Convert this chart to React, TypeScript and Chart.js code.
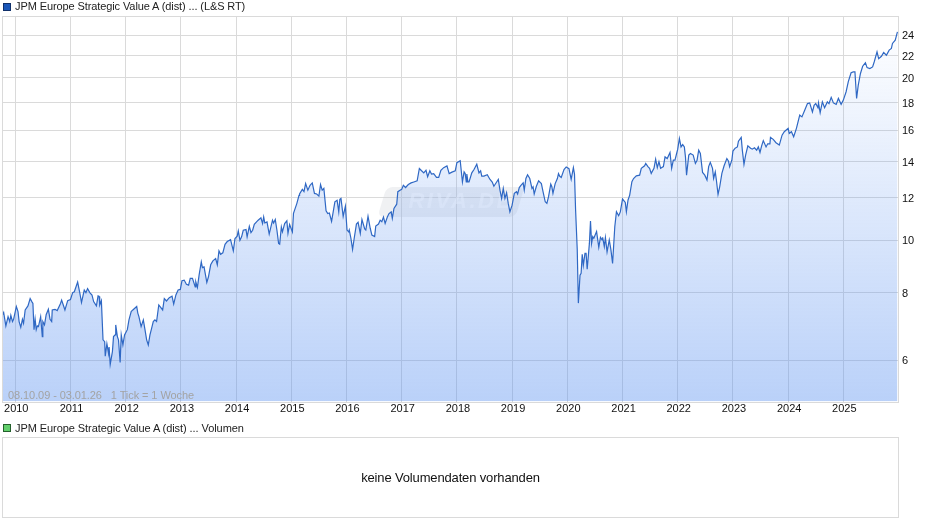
import React, { useEffect, useRef } from "react";
import { Chart, registerables } from "chart.js";

Chart.register(...registerables);

const seriesLabel = "JPM Europe Strategic Value A (dist) ... (L&S RT)";
const volumeLabel = "JPM Europe Strategic Value A (dist) ... Volumen";
const noVolumeText = "keine Volumendaten vorhanden";
const rangeText = "08.10.09 - 03.01.26";
const tickText = "1 Tick = 1 Woche";
const watermarkText = "RIVA.DE";

const yearTicks = [2010, 2011, 2012, 2013, 2014, 2015, 2016, 2017, 2018, 2019, 2020, 2021, 2022, 2023, 2024, 2025];
const priceTicks = [6, 8, 10, 12, 14, 16, 18, 20, 22, 24];

const dates2009to2012 = [2009.77,2009.79,2009.83,2009.87,2009.90,2009.92,2009.95,2009.97,2010.02,2010.05,2010.07,2010.10,2010.13,2010.15,2010.18,2010.23,2010.27,2010.30,2010.32,2010.34,2010.36,2010.38,2010.40,2010.42,2010.46,2010.49,2010.50,2010.53,2010.56,2010.60,2010.63,2010.66,2010.67,2010.72,2010.76,2010.82,2010.84,2010.87,2010.90,2010.95,2011.00,2011.04,2011.07,2011.13,2011.17,2011.20,2011.25,2011.28,2011.31,2011.35,2011.39,2011.42,2011.47,2011.50,2011.52,2011.53,2011.56,2011.59,2011.62,2011.63,2011.66,2011.69,2011.70,2011.72,2011.76,2011.78,2011.81,2011.82,2011.85,2011.87,2011.90,2011.92,2011.95,2011.98,2012.03,2012.06,2012.10,2012.13,2012.20,2012.22,2012.24,2012.28,2012.32,2012.35,2012.38,2012.41,2012.44,2012.47,2012.50,2012.53,2012.56,2012.60];
const prices2009to2012 = [7.28,7.35,6.94,7.22,7.07,7.26,7.07,7.14,7.54,7.38,7.07,6.90,7.14,7.02,7.43,7.56,7.80,7.70,7.64,6.83,7.14,6.83,6.94,6.92,7.22,6.63,7.07,6.97,7.28,7.45,7.14,7.07,7.43,7.45,7.41,7.64,7.75,7.59,7.43,7.73,7.77,8.00,8.03,8.37,7.98,7.67,8.09,8.00,8.14,8.00,7.92,7.70,7.56,7.89,7.87,7.59,7.73,6.54,6.49,6.10,6.43,6.17,6.34,5.89,6.22,6.63,6.68,6.97,6.63,6.54,5.94,6.68,6.40,6.68,6.83,7.12,7.38,7.43,7.54,7.33,7.22,6.92,7.12,6.83,6.54,6.40,6.68,6.87,7.07,7.12,7.07,7.59];

const dates2012to2015 = [2012.67,2012.70,2012.74,2012.79,2012.84,2012.87,2012.91,2012.95,2012.99,2013.02,2013.06,2013.10,2013.14,2013.17,2013.21,2013.26,2013.27,2013.30,2013.33,2013.37,2013.39,2013.42,2013.47,2013.50,2013.54,2013.58,2013.63,2013.66,2013.69,2013.72,2013.76,2013.80,2013.84,2013.90,2013.95,2013.98,2014.02,2014.04,2014.07,2014.10,2014.13,2014.18,2014.20,2014.24,2014.27,2014.30,2014.33,2014.40,2014.45,2014.48,2014.50,2014.52,2014.56,2014.60,2014.66,2014.68,2014.71,2014.74,2014.77,2014.79,2014.82,2014.84,2014.88,2014.92,2014.94,2014.97,2015.02,2015.04,2015.10,2015.14];
const prices2012to2015 = [7.43,7.80,7.72,7.83,7.88,7.62,7.92,8.09,8.11,8.42,8.44,8.29,8.26,8.50,8.50,8.20,8.38,8.18,8.62,9.12,8.90,8.93,8.36,8.56,9.01,9.16,9.25,9.01,9.56,9.42,9.48,9.83,9.95,10.03,9.56,10.08,10.18,10.41,10.00,10.15,10.44,10.47,10.15,10.62,10.34,10.44,10.71,10.90,11.01,10.74,11.05,10.77,10.82,10.27,10.90,10.77,10.93,10.44,9.87,9.84,10.59,10.37,10.74,10.87,10.30,10.70,10.37,11.22,11.70,12.12];

const dates2015to2017 = [2015.15,2015.20,2015.23,2015.26,2015.30,2015.34,2015.38,2015.42,2015.46,2015.50,2015.53,2015.56,2015.59,2015.63,2015.66,2015.69,2015.73,2015.77,2015.79,2015.83,2015.86,2015.88,2015.90,2015.94,2015.98,2016.01,2016.04,2016.05,2016.08,2016.11,2016.14,2016.18,2016.21,2016.25,2016.28,2016.33,2016.35,2016.39,2016.43,2016.46,2016.51,2016.53,2016.58,2016.61,2016.64,2016.67,2016.70,2016.74,2016.77,2016.81,2016.83,2016.86,2016.91,2016.93,2016.97,2017.00,2017.03,2017.07,2017.12,2017.17,2017.22,2017.28,2017.32,2017.36,2017.40,2017.44,2017.47,2017.51,2017.54,2017.58,2017.63,2017.67,2017.71,2017.76,2017.82,2017.86,2017.91];
const prices2015to2017 = [12.19,12.43,12.31,12.74,12.39,12.65,12.78,12.22,12.19,12.08,12.69,12.39,12.48,11.34,11.21,11.24,10.84,11.46,11.79,11.87,11.29,11.92,11.96,11.08,11.57,10.45,10.37,10.45,10.09,9.62,10.09,10.72,10.80,10.30,10.93,10.50,10.45,11.08,10.53,10.23,10.16,10.63,10.72,10.90,10.83,11.05,10.75,11.05,11.21,11.29,10.98,11.46,11.67,12.31,12.39,12.43,12.65,12.53,12.69,12.78,12.83,12.89,13.59,13.46,13.34,13.49,13.12,13.46,13.27,13.30,13.08,13.08,13.49,13.64,13.74,13.30,13.38];

const dates2018to2020 = [2017.97,2018.00,2018.06,2018.10,2018.13,2018.15,2018.17,2018.18,2018.20,2018.22,2018.27,2018.31,2018.36,2018.40,2018.43,2018.45,2018.49,2018.55,2018.60,2018.64,2018.67,2018.72,2018.75,2018.78,2018.81,2018.84,2018.87,2018.90,2018.93,2018.96,2019.00,2019.04,2019.08,2019.10,2019.13,2019.16,2019.20,2019.22,2019.25,2019.28,2019.32,2019.36,2019.38,2019.40,2019.44,2019.48,2019.53,2019.56,2019.60,2019.63,2019.66,2019.70,2019.72,2019.74,2019.78,2019.82,2019.84,2019.86,2019.89,2019.94,2019.98,2020.03,2020.07,2020.11,2020.13,2020.15];
const prices2018to2020 = [13.46,13.93,14.05,12.83,13.40,13.30,12.83,13.27,12.83,12.83,13.34,13.53,13.84,13.34,13.46,13.16,13.16,13.23,12.97,12.83,12.60,12.83,12.97,12.39,11.96,12.48,11.96,12.25,11.71,11.29,11.62,12.22,12.31,12.19,12.53,12.65,12.78,12.39,13.02,13.23,13.02,12.48,12.57,12.19,12.60,12.89,12.74,12.31,11.79,11.71,12.05,12.71,12.57,12.22,12.74,13.02,13.30,13.16,13.08,13.53,13.68,13.58,12.97,13.64,13.27,11.38];

const dates2020to2023 = [2020.18,2020.20,2020.23,2020.25,2020.27,2020.29,2020.32,2020.34,2020.36,2020.40,2020.42,2020.44,2020.46,2020.48,2020.53,2020.57,2020.60,2020.63,2020.64,2020.67,2020.69,2020.72,2020.76,2020.79,2020.82,2020.86,2020.89,2020.93,2020.96,2021.00,2021.05,2021.07,2021.10,2021.13,2021.17,2021.20,2021.25,2021.31,2021.34,2021.40,2021.42,2021.46,2021.49,2021.52,2021.57,2021.60,2021.63,2021.66,2021.69,2021.74,2021.77,2021.81,2021.86,2021.89,2021.92,2021.95,2021.98,2022.00,2022.03,2022.06,2022.09,2022.12,2022.14,2022.16,2022.20,2022.23,2022.28,2022.32,2022.35,2022.38,2022.41,2022.45,2022.49,2022.53,2022.56,2022.59,2022.63,2022.65,2022.68,2022.70,2022.73,2022.76,2022.80,2022.84,2022.89,2022.92,2022.94,2022.98,2023.00,2023.04,2023.08,2023.10,2023.15,2023.17,2023.20,2023.23,2023.27,2023.32,2023.35,2023.39,2023.43,2023.46,2023.49,2023.52,2023.55,2023.60,2023.63,2023.67];
const prices2020to2023 = [9.60,7.65,8.62,8.69,9.42,8.99,9.46,9.46,8.84,9.87,10.86,9.87,10.16,10.09,10.38,9.71,10.13,10.02,10.13,9.74,10.12,9.52,10.02,9.60,9.06,10.60,11.30,11.11,11.29,11.93,11.76,11.30,11.88,12.13,12.85,13.02,13.17,13.21,13.60,13.75,13.89,13.70,13.60,13.31,13.60,14.14,13.64,13.99,13.60,13.70,14.28,14.18,14.55,13.60,14.08,14.08,14.49,14.76,15.45,14.90,15.05,14.90,14.28,13.21,14.39,14.49,14.39,13.89,14.08,14.70,14.49,13.36,13.21,12.94,13.70,13.95,13.60,13.03,13.40,12.94,12.17,12.57,13.31,13.75,14.18,14.02,13.70,14.08,14.64,14.82,14.90,15.27,15.52,14.70,13.83,14.39,14.97,14.82,14.76,14.85,14.70,14.90,14.55,14.97,15.31,14.90,15.10,15.10];

const dates2023to2026 = [2023.68,2023.73,2023.78,2023.84,2023.89,2023.93,2024.00,2024.02,2024.06,2024.10,2024.15,2024.21,2024.25,2024.30,2024.35,2024.39,2024.44,2024.47,2024.50,2024.54,2024.55,2024.58,2024.62,2024.66,2024.71,2024.74,2024.78,2024.82,2024.87,2024.91,2024.96,2025.00,2025.05,2025.09,2025.14,2025.18,2025.21,2025.24,2025.27,2025.31,2025.35,2025.40,2025.43,2025.48,2025.53,2025.56,2025.61,2025.64,2025.69,2025.73,2025.78,2025.83,2025.87,2025.89,2025.94,2025.98];
const prices2023to2026 = [15.52,15.39,15.17,15.02,15.67,15.90,16.13,15.79,15.90,15.56,16.13,17.07,16.94,17.43,17.93,17.98,17.30,17.80,17.93,17.62,17.98,17.25,18.06,17.62,18.06,17.93,18.41,17.98,17.87,18.33,17.87,18.20,18.86,19.69,20.45,20.53,20.53,18.33,19.40,20.39,21.03,21.34,20.91,20.82,20.97,21.44,22.36,21.72,21.94,22.30,22.04,22.53,22.69,23.18,23.50,24.36];

const dates = [...dates2009to2012, ...dates2012to2015, ...dates2015to2017, ...dates2018to2020, ...dates2020to2023, ...dates2023to2026];
const prices = [...prices2009to2012, ...prices2012to2015, ...prices2015to2017, ...prices2018to2020, ...prices2020to2023, ...prices2023to2026];

const FONT = '"Liberation Sans", Arial, sans-serif';
const GRID = "#dadada";

const framePlugin = {
  id: "frame",
  beforeDatasetsDraw(chart: any) {
    const { ctx } = chart;
    // faint watermark, behind the fill
    ctx.save();
    ctx.translate(450, 202);
    ctx.transform(1, 0, -0.3, 1, 0, 0);
    ctx.fillStyle = "rgba(205,208,214,0.30)";
    ctx.beginPath();
    ctx.roundRect(-68, -15, 138, 30, 6);
    ctx.fill();
    ctx.restore();
    ctx.save();
    ctx.fillStyle = "rgba(255,255,255,0.5)";
    ctx.font = `italic bold 22px ${FONT}`;
    ctx.letterSpacing = "2.5px";
    ctx.textAlign = "center";
    ctx.textBaseline = "middle";
    ctx.fillText(watermarkText, 461, 202);
    ctx.restore();
  },
  afterDatasetsDraw(chart: any) {
    const { ctx, chartArea: a } = chart;
    ctx.save();
    ctx.strokeStyle = GRID;
    ctx.lineWidth = 1;
    ctx.strokeRect(Math.round(a.left) + 0.5, Math.round(a.top) + 0.5, Math.round(a.right - a.left), Math.round(a.bottom - a.top));
    ctx.restore();
  },
};

function Swatch({ top, color, border }: { top: number; color: string; border: string }) {
  return (
    <div style={{ position: "absolute", left: 3, top, width: 6, height: 6, background: color, border: `1px solid ${border}` }} />
  );
}

function Label({ top, text, spacing }: { top: number; text: string; spacing: string }) {
  return (
    <div style={{ position: "absolute", left: 15, top, font: `11px ${FONT}`, lineHeight: "13px", letterSpacing: spacing, color: "#222", whiteSpace: "nowrap" }}>{text}</div>
  );
}

export default function App() {
  const ref = useRef<HTMLCanvasElement>(null);
  useEffect(() => {
    const canvas = ref.current!;
    const chart = new Chart(canvas, {
      type: "line",
      data: {
        datasets: [
          {
            label: seriesLabel,
            data: dates.map((d, i) => ({ x: d, y: prices[i] })),
            borderColor: "#2f68c4",
            borderWidth: 1.2,
            pointRadius: 0,
            tension: 0,
            fill: "start",
            backgroundColor: (c: any) => {
              const a = c.chart.chartArea;
              if (!a) return "rgba(90,145,240,0.2)";
              const g = c.chart.ctx.createLinearGradient(0, a.top + 18, 0, a.bottom);
              g.addColorStop(0, "rgba(90,145,240,0.01)");
              g.addColorStop(1, "rgba(90,145,240,0.42)");
              return g;
            },
          },
        ],
      },
      options: {
        responsive: false,
        animation: false,
        layout: { padding: { left: 2, top: 16, right: 0, bottom: 0 } },
        plugins: { legend: { display: false }, tooltip: { enabled: false } },
        scales: {
          x: {
            type: "linear",
            min: 2009.76,
            max: 2025.99,
            afterBuildTicks: (s: any) => {
              s.ticks = yearTicks.map((value) => ({ value }));
            },
            afterFit: (s: any) => {
              s.height = 124.5;
            },
            grid: { color: GRID, lineWidth: 1, drawTicks: false },
            border: { display: false },
            ticks: {
              autoSkip: false,
              maxRotation: 0,
              padding: 1,
              labelOffset: 1,
              color: "#111",
              font: { family: FONT, size: 11 },
              callback: (v: any) => String(v),
            },
          },
          y: {
            type: "logarithmic",
            position: "right",
            min: 5.026,
            max: 26.06,
            afterBuildTicks: (s: any) => {
              s.ticks = priceTicks.map((value) => ({ value }));
            },
            afterFit: (s: any) => {
              s.width = 42;
            },
            grid: { color: GRID, lineWidth: 1, drawTicks: false },
            border: { display: false },
            ticks: {
              autoSkip: false,
              padding: 4,
              labelOffset: 1,
              color: "#111",
              font: { family: FONT, size: 11 },
              callback: (v: any) => String(v),
            },
          },
        },
      },
      plugins: [framePlugin],
    } as any);
    return () => chart.destroy();
  }, []);

  return (
    <div style={{ position: "absolute", left: 0, top: 0, width: 940, height: 526, background: "#fff", overflow: "hidden" }}>
      <canvas ref={ref} width={940} height={526} style={{ position: "absolute", left: 0, top: 0, display: "block" }} />
      <Swatch top={3} color="#1a56b8" border="#10306a" />
      <Label top={0} text={seriesLabel} spacing="-0.1px" />
      <div style={{ position: "absolute", left: 8, top: 389, font: `11px ${FONT}`, lineHeight: "13px", letterSpacing: "-0.08px", color: "#a3a3a3", whiteSpace: "pre" }}>
        {rangeText + "   " + tickText}
      </div>
      <Swatch top={424} color="#62cf6c" border="#24602c" />
      <Label top={422} text={volumeLabel} spacing="-0.07px" />
      <div
        style={{
          position: "absolute",
          left: 2,
          top: 437,
          width: 895,
          height: 79,
          border: `1px solid ${GRID}`,
          display: "flex",
          alignItems: "center",
          justifyContent: "center",
          font: `13px ${FONT}`,
          letterSpacing: "-0.15px",
          color: "#111",
        }}
      >
        {noVolumeText}
      </div>
    </div>
  );
}
